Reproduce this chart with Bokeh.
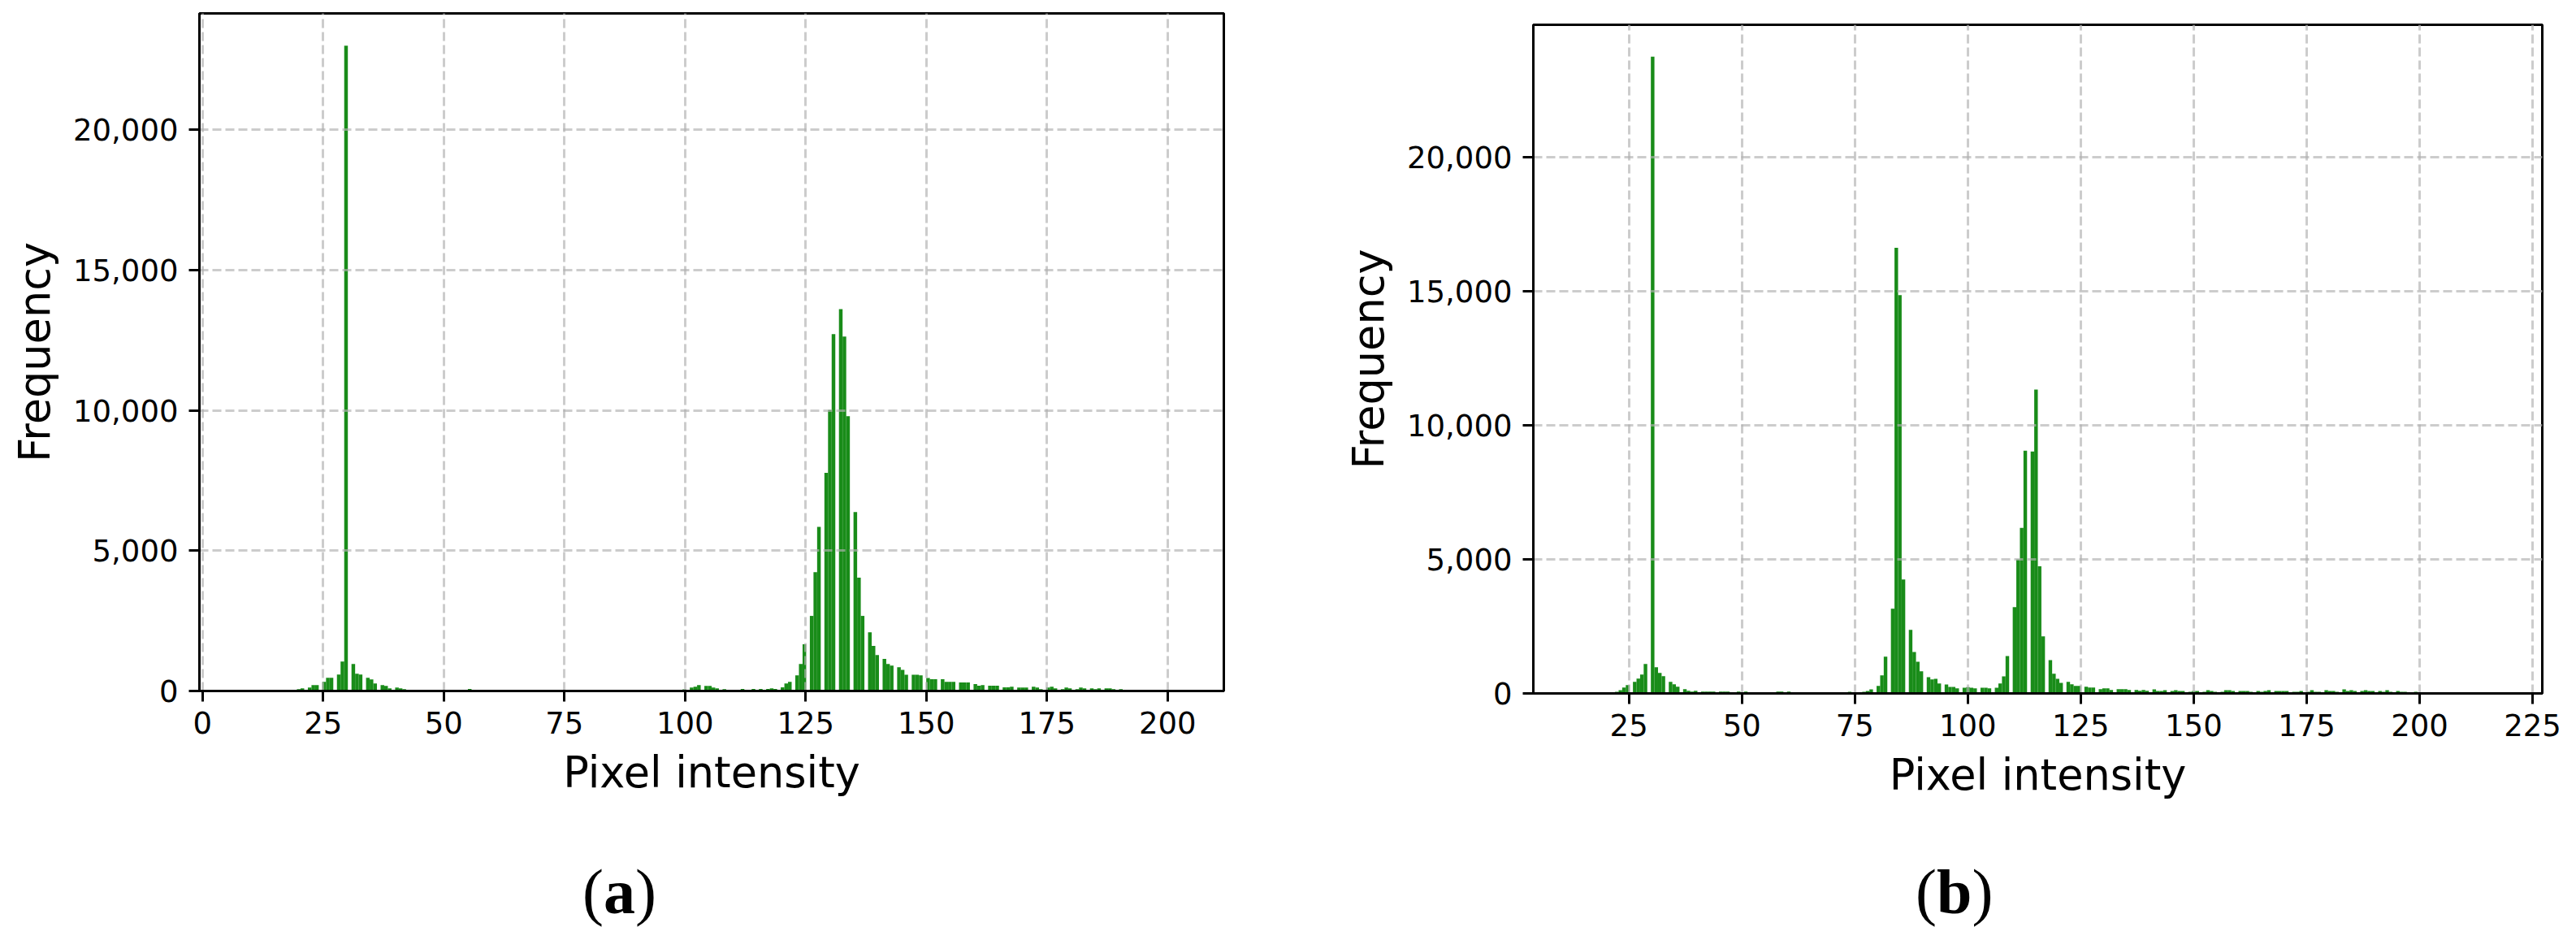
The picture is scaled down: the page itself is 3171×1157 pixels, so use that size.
import math
from bokeh.embed import file_html
from bokeh.resources import INLINE
from bokeh.layouts import column, row
from bokeh.models import ColumnDataSource, Div, FixedTicker, NumeralTickFormatter, Range1d
from bokeh.plotting import figure

# Panel (a): pixel intensity -> frequency
a_pixels = [20, 21, 22, 23, 24, 25, 26, 27, 28, 29, 30, 31, 32, 33, 34, 35, 36, 37, 38, 39, 40, 41, 42, 55,
            100, 101, 102, 103, 104, 105, 106, 107, 108, 112, 114, 116, 117, 118, 119,
            120, 121, 122, 123, 124, 125, 126, 127, 128, 129, 130, 131, 132, 133, 134, 135, 136, 137, 138, 139,
            140, 141, 142, 143, 144, 145, 146, 147, 148, 149, 150, 151, 152, 153, 154, 155, 156, 157, 158, 159,
            160, 161, 162, 163, 164, 165, 166, 167, 168, 169, 170, 171, 172, 173, 174, 175, 176, 177, 178, 179,
            180, 181, 182, 183, 184, 185, 186, 187, 188, 189, 190]
a_counts = [67, 96, 125, 212, 212, 328, 472, 472, 588, 1051, 22990, 964, 617, 588, 472, 415, 270, 212, 183, 96, 125, 96, 67, 70,
            58, 125, 154, 212, 183, 183, 125, 96, 67, 70, 70, 70, 70, 93, 70,
            128, 267, 326, 558, 965, 1663, 2675, 4233, 5850, 7769, 10013, 12712, 13607, 12630, 9792, 6373, 4036, 2675, 2093, 1605,
            1279, 1140, 965, 907, 849, 756, 581, 581, 581, 558, 465, 419, 419, 419, 326, 326, 326, 302, 302, 302,
            244, 186, 209, 186, 186, 186, 128, 128, 151, 125, 125, 125, 154, 125, 67, 125, 154, 96, 67, 125,
            96, 67, 125, 96, 96, 67, 96, 96, 96, 67, 67]
a_data_min, a_data_max = 9, 202

# Panel (b): pixel intensity -> frequency
b_pixels = [22, 23, 24, 25, 26, 27, 28, 29, 30, 31, 32, 33, 34, 35, 36, 37, 38, 39, 40, 41, 42, 43, 44, 45, 46, 47,
            49, 51, 58, 59, 60, 61, 63, 66, 69, 70, 71, 72, 73, 74, 76, 77, 78, 79,
            80, 81, 82, 83, 84, 85, 86, 87, 88, 89, 90, 91, 92, 93, 94, 95, 96, 97, 98, 99,
            100, 101, 102, 103, 104, 105, 106, 107, 108, 109, 110, 111, 112, 113, 114, 115, 116, 117, 118, 119,
            120, 121, 122, 123, 124, 125, 126, 127, 128, 129, 130, 131, 132, 133, 134, 135, 136, 137, 138, 139,
            140, 141, 142, 143, 144, 145, 146, 147, 148, 149, 150, 151, 152, 153, 154, 155, 156, 157, 158, 159,
            160, 161, 162, 163, 164, 165, 166, 167, 168, 169, 170, 171, 172, 173, 174, 175, 176, 177, 178, 179,
            180, 181, 182, 183, 184, 185, 186, 187, 188, 189, 190, 191, 192, 193, 194, 195, 196, 197, 199]
b_counts = [61, 121, 222, 313, 434, 556, 707, 1100, 23767, 980, 768, 646, 434, 343, 252, 162, 101, 71, 101, 71, 71, 71, 71, 71, 71, 71,
            71, 71, 71, 71, 71, 35, 35, 35, 35, 35, 35, 35, 35, 58, 35, 58, 93, 151,
            279, 675, 1372, 3163, 16630, 14863, 4256, 2372, 1547, 1186, 826, 605, 523, 547, 372, 337, 244, 244, 186, 209,
            233, 209, 186, 209, 209, 186, 209, 372, 640, 1396, 3221, 5000, 6175, 9060, 9025, 11340, 4745, 2128, 1244, 733,
            547, 395, 434, 343, 283, 283, 252, 222, 222, 162, 192, 192, 131, 162, 162, 162, 131, 131, 101, 131,
            101, 151, 91, 91, 121, 91, 121, 91, 91, 61, 91, 91, 61, 121, 91, 61, 61, 121, 121, 91,
            91, 91, 91, 61, 91, 61, 91, 121, 91, 91, 91, 91, 61, 61, 91, 61, 121, 61, 61, 121,
            91, 91, 61, 151, 91, 121, 91, 91, 121, 91, 91, 91, 61, 121, 61, 91, 61, 61, 61]
b_data_min, b_data_max = 14, 217

N_BINS = 256
x_ticks_a = [0, 25, 50, 75, 100, 125, 150, 175, 200]
x_ticks_b = [25, 50, 75, 100, 125, 150, 175, 200, 225]
y_ticks = [0, 5000, 10000, 15000, 20000]
x_label = "Pixel intensity"
y_label = "Frequency"
captions = ["(<b>a</b>)", "(<b>b</b>)"]


def panel(pixels, counts, lo, hi, x_ticks, w, h, left, right, top, bottom):
    bw = (hi - lo) / N_BINS
    lefts, rights = [], []
    for v in pixels:
        k = math.floor((v - lo) / bw)
        lefts.append(lo + k * bw)
        rights.append(lo + (k + 1) * bw)
    src = ColumnDataSource(dict(left=lefts, right=rights, top=counts))
    margin = (hi - lo) * 0.05
    p = figure(width=w, height=h, output_backend="svg", toolbar_location=None, title=None,
               x_range=Range1d(lo - margin, hi + margin), y_range=Range1d(0, max(counts) * 1.05),
               min_border_left=left, min_border_right=right, min_border_top=top, min_border_bottom=bottom,
               frame_align=False)
    p.quad(left="left", right="right", bottom=0, top="top", source=src,
           fill_color="#008000", fill_alpha=0.9, line_color=None)
    p.outline_line_color = "black"
    p.outline_line_width = 3
    p.outline_line_alpha = 1
    for ax, ticks in ((p.xaxis[0], x_ticks), (p.yaxis[0], y_ticks)):
        ax.ticker = FixedTicker(ticks=ticks)
        ax.level = "overlay"
        ax.axis_line_color = "black"
        ax.axis_line_width = 3
        ax.major_tick_line_color = "black"
        ax.major_tick_line_width = 3
        ax.major_tick_out = 13
        ax.major_tick_in = 0
        ax.minor_tick_line_color = None
        ax.major_label_text_font = "DejaVu Sans"
        ax.major_label_text_font_size = "37px"
        ax.major_label_text_color = "black"
        ax.axis_label_text_font = "DejaVu Sans"
        ax.axis_label_text_font_style = "normal"
        ax.axis_label_text_font_size = "52.5px"
        ax.axis_label_text_color = "black"
    p.xaxis[0].axis_label = x_label
    p.yaxis[0].axis_label = y_label
    p.xaxis[0].major_label_standoff = 12
    p.yaxis[0].major_label_standoff = 13
    p.xaxis[0].axis_label_standoff = 14
    p.yaxis[0].axis_label_standoff = 14
    p.yaxis[0].formatter = NumeralTickFormatter(format="0,0")
    for g in (p.xgrid[0], p.ygrid[0]):
        g.level = "annotation"
        g.grid_line_color = "#b1b1b1"
        g.grid_line_alpha = 0.65
        g.grid_line_width = 3
        g.grid_line_dash = "11 5"
    p.xgrid[0].ticker = FixedTicker(ticks=x_ticks)
    p.ygrid[0].ticker = FixedTicker(ticks=y_ticks)
    return p


def caption(text, w, pad):
    return Div(text=text, width=w, height=90, margin=(0, 0, 0, pad),
               styles={"font-family": "Liberation Serif", "font-size": "78px",
                       "line-height": "78px", "color": "black"})


fig_a = panel(a_pixels, a_counts, a_data_min, a_data_max, x_ticks_a, 1560, 1059, 245, 54, 16, 209)
fig_b = panel(b_pixels, b_counts, b_data_min, b_data_max, x_ticks_b, 1603, 1059, 327, 34, 30, 206)
cap_a = caption(captions[0], 843, 717)
cap_b = caption(captions[1], 805, 798)

layout = column(row(fig_a, fig_b), row(cap_a, cap_b))
html = file_html(layout, INLINE)
open("out.html", "w").write(html)
